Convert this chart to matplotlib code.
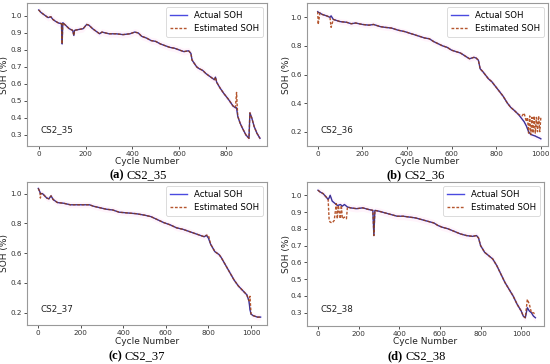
import matplotlib
matplotlib.use("Agg")
import matplotlib.pyplot as plt
import numpy as np

# ---------------- data ----------------
cyc_35 = [0, 10, 25, 40, 52, 60, 70, 85, 97, 100, 103, 115, 130, 145, 150, 153, 170, 190, 205, 215,
          230, 250, 260, 270, 300, 330, 360, 390, 410, 425, 440, 460, 480, 500, 520, 540, 560, 580,
          600, 620, 640, 650, 655, 665, 675, 685, 700, 715, 735, 750, 755, 760, 775, 790, 810, 830,
          840, 845, 850, 860, 870, 885, 898, 902, 910, 920, 932, 945]
soh_35 = [1.035, 1.02, 1.005, 0.99, 0.995, 0.98, 0.97, 0.958, 0.955, 0.835, 0.96, 0.945, 0.925, 0.915,
          0.885, 0.915, 0.92, 0.925, 0.95, 0.945, 0.925, 0.905, 0.895, 0.905, 0.895, 0.895, 0.89,
          0.895, 0.905, 0.9, 0.88, 0.87, 0.855, 0.85, 0.835, 0.825, 0.815, 0.81, 0.80, 0.79, 0.795,
          0.78, 0.74, 0.72, 0.70, 0.69, 0.68, 0.66, 0.64, 0.625, 0.64, 0.61, 0.575, 0.545, 0.51,
          0.47, 0.46, 0.46, 0.41, 0.37, 0.34, 0.30, 0.28, 0.43, 0.40, 0.35, 0.31, 0.28]
est_dev_35 = {845: 0.55}

cyc_36 = [0, 2, 10, 20, 40, 55, 60, 70, 100, 130, 150, 170, 200, 230, 250, 280, 300, 330, 360, 390,
          420, 450, 480, 500, 520, 540, 560, 580, 600, 620, 640, 660, 680, 700, 710, 720, 728, 740,
          750, 765, 780, 795, 810, 830, 850, 865, 880, 900, 915, 925, 935, 940, 945, 950, 955, 960,
          965, 970, 975, 980, 985, 990, 995, 1000]
soh_36 = [1.04, 1.035, 1.03, 1.02, 1.01, 1.0, 1.01, 0.985, 0.97, 0.965, 0.955, 0.96, 0.95, 0.945,
          0.95, 0.935, 0.93, 0.925, 0.91, 0.90, 0.885, 0.87, 0.855, 0.85, 0.83, 0.815, 0.80, 0.79,
          0.77, 0.76, 0.75, 0.73, 0.71, 0.72, 0.715, 0.70, 0.64, 0.62, 0.60, 0.57, 0.55, 0.52, 0.49,
          0.45, 0.40, 0.37, 0.35, 0.32, 0.29, 0.27, 0.24, 0.22, 0.20, 0.19, 0.18, 0.178, 0.175,
          0.172, 0.17, 0.165, 0.162, 0.158, 0.155, 0.15]
est_dev_36 = {2: 0.95, 60: 0.93, 915: 0.31, 925: 0.33, 935: 0.27, 940: 0.30, 945: 0.19, 950: 0.31,
              955: 0.18, 960: 0.30, 965: 0.19, 970: 0.31, 975: 0.19, 980: 0.30, 985: 0.20,
              990: 0.31, 995: 0.20, 1000: 0.30}

cyc_37 = [0, 8, 10, 12, 20, 40, 50, 60, 70, 90, 120, 150, 180, 210, 240, 260, 290, 320, 350, 380,
          420, 460, 500, 530, 560, 590, 620, 650, 680, 710, 740, 760, 780, 790, 800, 810, 830, 850,
          860, 880, 900, 920, 940, 960, 980, 990, 995, 1000, 1010, 1020, 1030, 1045]
soh_37 = [1.035, 1.01, 1.0, 1.0, 1.0, 0.97, 0.965, 0.985, 0.96, 0.94, 0.935, 0.925, 0.925, 0.925,
          0.925, 0.915, 0.905, 0.895, 0.89, 0.875, 0.87, 0.865, 0.855, 0.845, 0.825, 0.805, 0.79,
          0.77, 0.76, 0.745, 0.73, 0.72, 0.71, 0.72, 0.70, 0.66, 0.61, 0.59, 0.57, 0.52, 0.47, 0.42,
          0.38, 0.35, 0.32, 0.28, 0.22, 0.19, 0.18, 0.175, 0.17, 0.17]
est_dev_37 = {10: 0.97, 800: 0.72, 995: 0.31}

cyc_38 = [0, 10, 25, 40, 50, 55, 60, 70, 80, 90, 95, 100, 110, 115, 120, 130, 140, 145, 160, 190,
          220, 250, 270, 275, 280, 300, 330, 360, 390, 420, 450, 480, 510, 540, 570, 590, 610, 640,
          670, 700, 730, 760, 780, 790, 800, 820, 840, 860, 880, 900, 920, 940, 960, 980, 1000,
          1010, 1020, 1030, 1040, 1050, 1060, 1070]
soh_38 = [1.03, 1.02, 1.01, 0.99, 0.975, 0.985, 1.0, 0.965, 0.955, 0.945, 0.94, 0.94, 0.945, 0.94,
          0.935, 0.945, 0.935, 0.93, 0.925, 0.92, 0.925, 0.915, 0.91, 0.76, 0.91, 0.905, 0.895,
          0.885, 0.875, 0.875, 0.87, 0.865, 0.855, 0.845, 0.835, 0.82, 0.81, 0.80, 0.785, 0.77,
          0.76, 0.755, 0.76, 0.745, 0.70, 0.66, 0.64, 0.62, 0.58, 0.53, 0.48, 0.44, 0.40, 0.35,
          0.31, 0.28, 0.27, 0.33, 0.31, 0.30, 0.28, 0.27]
est_dev_38 = {55: 0.85, 60: 0.84, 70: 0.835, 80: 0.85, 90: 0.95, 95: 0.86, 110: 0.86, 115: 0.94,
              120: 0.86, 130: 0.87, 140: 0.86, 145: 0.93, 1030: 0.38, 1040: 0.35, 1060: 0.30,
              1070: 0.29}

names = ["CS2_35", "CS2_36", "CS2_37", "CS2_38"]
letters = ["(a)", "(b)", "(c)", "(d)"]
xticks = [[0, 200, 400, 600, 800], [0, 200, 400, 600, 800, 1000],
          [0, 200, 400, 600, 800, 1000], [0, 200, 400, 600, 800, 1000]]
yticks = [[0.3, 0.4, 0.5, 0.6, 0.7, 0.8, 0.9, 1.0], [0.2, 0.4, 0.6, 0.8, 1.0],
          [0.2, 0.4, 0.6, 0.8, 1.0], [0.3, 0.4, 0.5, 0.6, 0.7, 0.8, 0.9, 1.0]]
xlims = [(-50, 975), (-48, 1032), (-53, 1075), (-54, 1112)]
ylims = [(0.235, 1.076), (0.10, 1.10), (0.117, 1.078), (0.221, 1.079)]
series = [(cyc_35, soh_35, est_dev_35), (cyc_36, soh_36, est_dev_36),
          (cyc_37, soh_37, est_dev_37), (cyc_38, soh_38, est_dev_38)]

# ---------------- layout ----------------
W, H = 550, 364
fig = plt.figure(figsize=(W / 100, H / 100), dpi=100)
boxes = [(27, 3, 267, 146), (307, 3, 548, 146), (27, 182, 267, 325), (307, 182, 544, 326)]
ylab_x = [9, 291, 9, 291]
xlab_top = [156.5, 156.5, 336.5, 337.5]
cap_split = [(124, 175), (402, 175), (122, 356), (403, 356)]

for i, (l, t, r, b) in enumerate(boxes):
    w, h = r - l, b - t
    ax = fig.add_axes([l / W, 1 - b / H, w / W, h / H])
    cx, cy, dev = series[i]
    est = [dev.get(c, v) for c, v in zip(cx, cy)]
    cy_arr = np.array(cy)
    ax.fill_between(cx, cy_arr - 0.02, cy_arr + 0.02, color="#ff66cc", alpha=0.07, lw=0)
    ax.plot(cx, cy, color="#4a4ae0", lw=1.0, label="Actual SOH")
    ax.plot(cx, est, color="#b5562e", lw=1.0, ls=(0, (2, 1.2)), label="Estimated SOH")
    ax.plot(cx, cy, color="#3a2030", lw=0.6, alpha=0.6)
    ax.set_xlim(*xlims[i])
    ax.set_ylim(*ylims[i])
    ax.set_xticks(xticks[i])
    ax.set_yticks(yticks[i])
    ax.set_yticklabels([f"{v:.1f}" for v in yticks[i]])
    ax.tick_params(labelsize=5.2, length=2.5, width=0.6, pad=1.2, colors="#333333")
    for s in ax.spines.values():
        s.set_color("#999999")
        s.set_linewidth(0.8)
    ax.set_xlabel("Cycle Number", fontsize=6.5, color="#222222")
    ax.set_ylabel("SOH (%)", fontsize=6.5, color="#222222")
    ax.xaxis.set_label_coords(0.5, (b - xlab_top[i]) / h)
    ax.yaxis.set_label_coords((ylab_x[i] - l) / w, 0.5)
    ax.text(0.055, 0.1, names[i], transform=ax.transAxes, fontsize=6.3, color="#222222")
    leg = ax.legend(loc="upper right", fontsize=6.2, frameon=True, handlelength=2.0,
                    borderpad=0.45, labelspacing=0.45, fancybox=True, borderaxespad=0.45,
                    handletextpad=0.8)
    leg.get_frame().set_edgecolor("#cccccc")
    leg.get_frame().set_linewidth(0.6)
    sx, sy = cap_split[i]
    fig.text(sx / W, 1 - sy / H, letters[i], ha="right", va="center", fontsize=9,
             family="Liberation Serif", weight="bold")
    fig.text((sx + 2.5) / W, 1 - sy / H, names[i], ha="left", va="center", fontsize=9,
             family="Liberation Serif")

fig.savefig("out.png", dpi=100)
